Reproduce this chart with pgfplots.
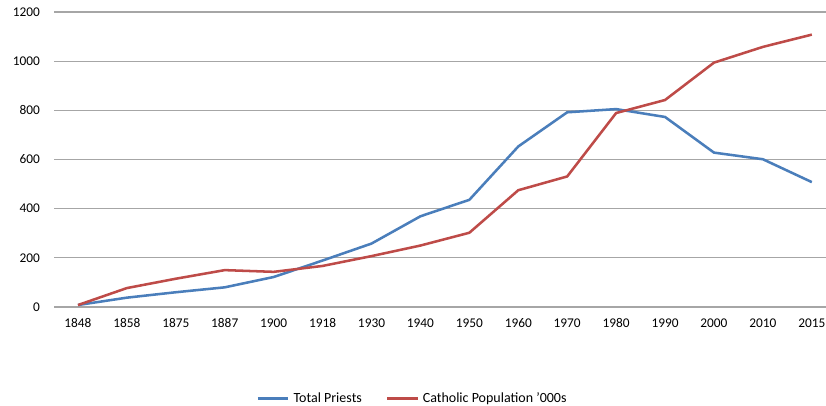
\documentclass[border=0pt]{standalone}
\usepackage{pgfplots}
\pgfplotsset{compat=1.18}
\usepackage{fontspec}
\setmainfont{Carlito}
\definecolor{xlblue}{HTML}{4A7EBB}
\definecolor{xlred}{HTML}{BE4B48}
\definecolor{gridc}{HTML}{A6A6A6}
\begin{document}
\begin{tikzpicture}
\useasboundingbox (-40.5pt,-74.25pt) rectangle (579pt,230.25pt);
\begin{axis}[
  scale only axis,
  width=579pt, height=221.25pt,
  xmin=-0.49, xmax=15.29,
  ymin=0, ymax=1200,
  ytick={0,200,...,1200},
  xtick={0,...,15},
  xticklabels={1848,1858,1875,1887,1900,1918,1930,1940,1950,1960,1970,1980,1990,2000,2010,2015},
  axis line style={draw=none},
  ymajorgrids, grid style={gridc, line width=0.8pt},
  major tick length=0pt,
  tick label style={font=\fontsize{10}{12}\selectfont},
  /pgf/number format/assume math mode=true,
  /pgf/number format/1000 sep={},
  yticklabel style={xshift=-7pt},
  xticklabel style={yshift=-5pt},
  legend style={at={(0.465,-0.31)}, anchor=center, draw=none, legend columns=2,
    font=\fontsize{10.5}{12}\selectfont,
    /tikz/every odd column/.append style={column sep=1pt},
    /tikz/every even column/.append style={column sep=16pt}},
  legend image code/.code={\draw[#1] (0cm,0cm) -- (0.8cm,0cm);},
  clip=false,
]
\addplot[xlblue, line width=1.9pt] coordinates {
(0,8) (1,38) (2,60) (3,80) (4,122) (5,189) (6,258) (7,369) (8,436) (9,653) (10,792) (11,805) (12,773) (13,628) (14,601) (15,508)};
\addlegendentry{Total Priests}
\addplot[xlred, line width=1.9pt] coordinates {
(0,8) (1,77) (2,115) (3,150) (4,143) (5,167) (6,207) (7,250) (8,302) (9,475) (10,531) (11,789) (12,842) (13,994) (14,1058) (15,1108)};
\addlegendentry{Catholic Population '000s}
\end{axis}
\end{tikzpicture}
\end{document}
